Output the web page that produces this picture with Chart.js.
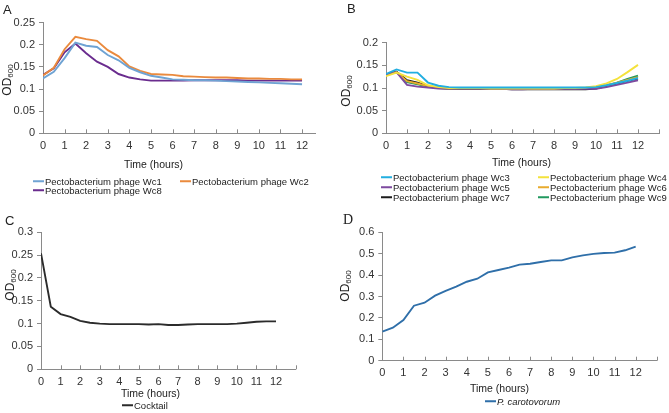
<!DOCTYPE html>
<html>
<head>
<meta charset="utf-8">
<script src="https://cdn.jsdelivr.net/npm/chart.js@4"></script>
<style>
  body { margin: 0; background: #fff; }
  #fig { position: relative; width: 669px; height: 413px; overflow: hidden; font-family: "Liberation Sans", Arial, sans-serif; color: #222; }
  canvas { position: absolute; }
  .txt { position: absolute; white-space: nowrap; transform: translateY(-50%); line-height: 1; }
  .ytitle { position: absolute; white-space: nowrap; font-size: 12px; line-height: 1; transform: translate(-50%, -50%) rotate(-90deg); }
  .ytitle sub { font-size: 8px; vertical-align: -2px; }
  .key { display: inline-block; width: 11px; height: 2px; vertical-align: middle; margin-right: 1px; position: relative; top: -1px; }
  .leg { font-size: 9.5px; }
</style>
</head>
<body>
<div id="fig">
  <canvas id="chartA" width="335" height="200" style="left:0;top:0"></canvas>
  <canvas id="chartB" width="334" height="200" style="left:335px;top:0"></canvas>
  <canvas id="chartC" width="335" height="213" style="left:0;top:200px"></canvas>
  <canvas id="chartD" width="334" height="213" style="left:335px;top:200px"></canvas>
</div>
<script>
const hours = [0, 0.5, 1, 1.5, 2, 2.5, 3, 3.5, 4, 4.5, 5, 5.5, 6, 6.5, 7, 7.5, 8, 8.5, 9, 9.5, 10, 10.5, 11, 11.5, 12];

// panel A
const namesA = ["Pectobacterium phage Wc1", "Pectobacterium phage Wc2", "Pectobacterium phage Wc8"];
const colorsA = ["#6fa3d3", "#ea8a3d", "#6a2c8e"];
const wc1 = [0.124, 0.139, 0.170, 0.205, 0.198, 0.195, 0.177, 0.165, 0.148, 0.138, 0.130, 0.126, 0.122, 0.121, 0.120, 0.120, 0.119, 0.118, 0.117, 0.116, 0.115, 0.114, 0.113, 0.112, 0.111];
const wc2 = [0.131, 0.148, 0.190, 0.218, 0.213, 0.209, 0.188, 0.174, 0.151, 0.141, 0.134, 0.133, 0.132, 0.129, 0.128, 0.127, 0.126, 0.126, 0.125, 0.124, 0.124, 0.123, 0.123, 0.122, 0.122];
const wc8 = [0.132, 0.147, 0.183, 0.203, 0.181, 0.162, 0.150, 0.134, 0.126, 0.122, 0.119, 0.119, 0.119, 0.119, 0.120, 0.120, 0.120, 0.120, 0.120, 0.119, 0.119, 0.119, 0.119, 0.119, 0.119];

// panel B
const namesB = ["Pectobacterium phage Wc3", "Pectobacterium phage Wc4", "Pectobacterium phage Wc5", "Pectobacterium phage Wc6", "Pectobacterium phage Wc7", "Pectobacterium phage Wc9"];
const colorsB = ["#22aee0", "#f4e23c", "#7d4a9f", "#e8ab2e", "#1c1c1c", "#21995f"];
const wc3 = [0.131, 0.141, 0.134, 0.134, 0.112, 0.105, 0.102, 0.101, 0.101, 0.101, 0.101, 0.101, 0.101, 0.101, 0.101, 0.101, 0.101, 0.101, 0.101, 0.101, 0.102, 0.106, 0.111, 0.116, 0.122];
const wc4 = [0.126, 0.134, 0.125, 0.118, 0.106, 0.102, 0.100, 0.100, 0.100, 0.100, 0.099, 0.099, 0.099, 0.099, 0.099, 0.099, 0.099, 0.100, 0.100, 0.101, 0.104, 0.110, 0.120, 0.135, 0.151];
const wc5 = [0.129, 0.135, 0.107, 0.103, 0.101, 0.099, 0.099, 0.099, 0.099, 0.099, 0.098, 0.098, 0.097, 0.097, 0.098, 0.098, 0.098, 0.098, 0.098, 0.098, 0.098, 0.102, 0.107, 0.112, 0.117];
const wc6 = [0.128, 0.135, 0.115, 0.110, 0.104, 0.101, 0.099, 0.099, 0.099, 0.099, 0.099, 0.099, 0.098, 0.098, 0.098, 0.098, 0.098, 0.099, 0.099, 0.100, 0.102, 0.106, 0.112, 0.118, 0.124];
const wc7 = [0.130, 0.136, 0.117, 0.112, 0.104, 0.100, 0.099, 0.098, 0.098, 0.098, 0.098, 0.098, 0.097, 0.097, 0.097, 0.097, 0.097, 0.097, 0.097, 0.097, 0.099, 0.104, 0.110, 0.116, 0.121];
const wc9 = [0.130, 0.136, 0.113, 0.108, 0.103, 0.100, 0.099, 0.099, 0.099, 0.099, 0.099, 0.099, 0.098, 0.098, 0.098, 0.098, 0.098, 0.098, 0.098, 0.099, 0.100, 0.105, 0.112, 0.120, 0.127];

// panel C
const namesC = ["Cocktail"];
const colorsC = ["#2b2b2b"];
const cocktail = [0.254, 0.137, 0.121, 0.115, 0.106, 0.102, 0.100, 0.099, 0.099, 0.099, 0.099, 0.098, 0.099, 0.097, 0.097, 0.098, 0.099, 0.099, 0.099, 0.099, 0.100, 0.102, 0.104, 0.105, 0.105];

// panel D
const namesD = ["P. carotovorum"];
const colorsD = ["#2f6fa9"];
const carotovorum = [0.136, 0.154, 0.190, 0.257, 0.271, 0.304, 0.326, 0.346, 0.369, 0.383, 0.413, 0.424, 0.435, 0.449, 0.453, 0.461, 0.469, 0.469, 0.483, 0.492, 0.499, 0.503, 0.505, 0.516, 0.533];

Chart.defaults.font.family = '"Liberation Sans", Arial, sans-serif';
Chart.defaults.font.size = 11;
Chart.defaults.color = "#333";

const axisColor = "#8a8a8a";

// small tick marks pointing up into the plot, like the original
const innerTicks = {
   id: "innerTicks",
   afterDraw(chart) {
      const xs = chart.scales.x;
      const ctx = chart.ctx;
      const y0 = chart.chartArea.bottom;
      ctx.save();
      ctx.strokeStyle = axisColor;
      ctx.lineWidth = 1;
      xs.ticks.forEach(t => {
         const px = Math.round(xs.getPixelForValue(t.value)) + 0.5;
         ctx.beginPath();
         ctx.moveTo(px, y0);
         ctx.lineTo(px, y0 - 4);
         ctx.stroke();
      });
      ctx.restore();
   }
};

function makeChart(id, series, names, colors, cfg) {
   const datasets = series.map((vals, i) => ({
      label: names[i],
      data: hours.map((h, j) => ({ x: h, y: vals[j] })),
      borderColor: colors[i],
      borderWidth: 1.9,
      pointRadius: 0,
      tension: 0,
      fill: false
   }));
   return new Chart(document.getElementById(id), {
      type: "line",
      data: { datasets: datasets },
      options: {
         responsive: false,
         devicePixelRatio: 1,
         animation: false,
         layout: { padding: cfg.padding },
         plugins: { legend: { display: false }, tooltip: { enabled: false } },
         scales: {
            x: {
               type: "linear",
               min: 0,
               max: cfg.xMax,
               afterFit(s) { s.height = 25; },
               border: { color: axisColor },
               grid: { drawOnChartArea: false, drawTicks: false },
               ticks: {
                  stepSize: 1,
                  includeBounds: false,
                  autoSkip: false,
                  maxRotation: 0,
                  padding: 6,
                  callback: v => (v <= 12 ? String(v) : "")
               }
            },
            y: {
               min: 0,
               max: cfg.yMax,
               afterFit(s) { s.width = cfg.yWidth; },
               border: { color: axisColor },
               grid: { drawOnChartArea: false, drawTicks: true, tickLength: 4, color: axisColor },
               ticks: {
                  stepSize: cfg.yStep,
                  padding: 4,
                  callback: v => String(+v.toFixed(2))
               }
            }
         }
      },
      plugins: [innerTicks]
   });
}

makeChart("chartA", [wc1, wc2, wc8], namesA, colorsA,
   { xMax: 12.6, yMax: 0.25, yStep: 0.05, yWidth: 43, padding: { left: 0, top: 22.7, right: 20, bottom: 41.7 } });
makeChart("chartB", [wc3, wc4, wc5, wc6, wc7, wc9], namesB, colorsB,
   { xMax: 13, yMax: 0.2, yStep: 0.05, yWidth: 51, padding: { left: 0, top: 42.7, right: 10, bottom: 41.7 } });
makeChart("chartC", [cocktail], namesC, colorsC,
   { xMax: 13, yMax: 0.3, yStep: 0.05, yWidth: 41, padding: { left: 0, top: 32.3, right: 39.4, bottom: 18.7 } });
makeChart("chartD", [carotovorum], namesD, colorsD,
   { xMax: 13, yMax: 0.6, yStep: 0.1, yWidth: 47.3, padding: { left: 0, top: 32.3, right: 12.2, bottom: 27.3 } });

// text around the plots
const fig = document.getElementById("fig");

function addText(html, x, y, css) {
   const d = document.createElement("div");
   d.className = "txt";
   d.innerHTML = html;
   d.style.left = x + "px";
   d.style.top = y + "px";
   Object.assign(d.style, css || {});
   fig.appendChild(d);
   return d;
}

function addYTitle(x, y) {
   const d = document.createElement("div");
   d.className = "ytitle";
   d.innerHTML = "OD<sub>600</sub>";
   d.style.left = x + "px";
   d.style.top = y + "px";
   fig.appendChild(d);
}

function addLegendItem(name, color, x, y, italic) {
   const label = italic ? "<i>" + name + "</i>" : name;
   const d = addText('<span class="key" style="background:' + color + '"></span>' + label, x, y);
   d.classList.add("leg");
}

// panel letters
addText("A", 3, 9, { fontSize: "13px" });
addText("B", 347, 8, { fontSize: "13px" });
addText("C", 5, 220, { fontSize: "13px" });
addText("D", 343, 220, { fontSize: "14px", fontFamily: '"Liberation Serif", "DejaVu Serif", serif' });

// axis titles
addYTitle(8, 80);
addYTitle(347, 91);
addYTitle(11, 285);
addYTitle(346, 286);

addText("Time (hours)", 124, 164, { fontSize: "10.5px" });
addText("Time (hours)", 492, 162, { fontSize: "10.5px" });
addText("Time (hours)", 121, 393, { fontSize: "10.5px" });
addText("Time (hours)", 470, 388, { fontSize: "10.5px" });

// legends
const legPosA = [[33, 181.5], [180, 181.5], [33, 191]];
namesA.forEach((n, i) => addLegendItem(n, colorsA[i], legPosA[i][0], legPosA[i][1]));

const legPosB = [[381, 178], [538, 178], [381, 188], [538, 188], [381, 197.5], [538, 197.5]];
namesB.forEach((n, i) => addLegendItem(n, colorsB[i], legPosB[i][0], legPosB[i][1]));

addLegendItem(namesC[0], colorsC[0], 122, 406);
addLegendItem(namesD[0], colorsD[0], 485, 402, true);
</script>
</body>
</html>
